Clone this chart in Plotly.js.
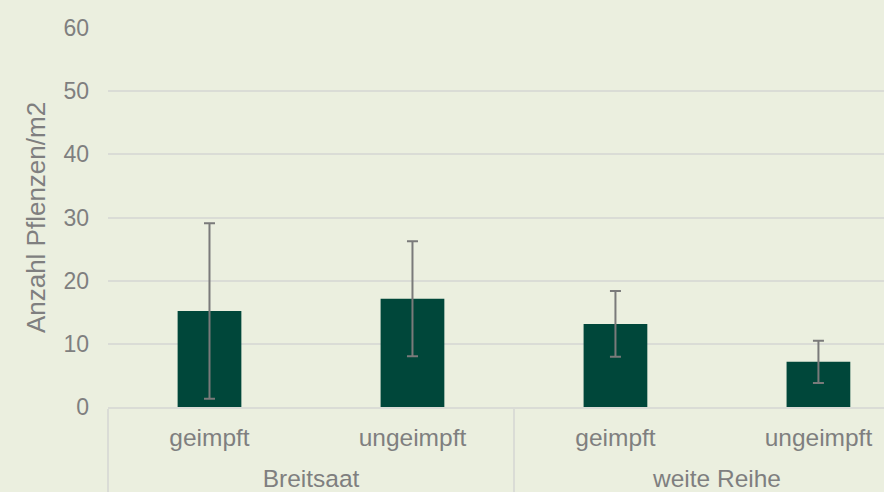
<!DOCTYPE html>
<html>
<head>
<meta charset="utf-8">
<script src="https://cdn.plot.ly/plotly-3.0.1.min.js"></script>
<style>html,body{margin:0;padding:0;background:#EBEFDF;}#chart{width:884px;height:492px;}</style>
</head>
<body>
<div id="chart"></div>
<script>
const groups = ["Breitsaat", "Breitsaat", "weite Reihe", "weite Reihe"];
const treatments = ["geimpft", "ungeimpft", "geimpft", "ungeimpft"];
const meanValues = [15.2, 17.15, 13.15, 7.15];
const errorValues = [13.9, 9.1, 5.2, 3.35];
const yTickValues = [0, 10, 20, 30, 40, 50, 60];

const textColor = "#7F7F7F";
const gridColor = "#DADCD6";
const family = "Liberation Sans, Arial, sans-serif";

// invisible tall spacer so the group labels sit lower, as in the original
const pad = "<span style='font-size:42px'>\u00A0</span>";
const treatmentLabels = treatments.map(t => pad + t + pad);

const trace = {
  type: "bar",
  x: [groups, treatmentLabels],
  y: meanValues,
  marker: {color: "#00473A"},
  error_y: {type: "data", array: errorValues, visible: true, color: "#7A7A7A", thickness: 2, width: 5.5},
  hoverinfo: "none"
};

const layout = {
  width: 884, height: 492,
  paper_bgcolor: "#EBEFDF",
  plot_bgcolor: "#EBEFDF",
  margin: {l: 108, r: 0, t: 28, b: 85, pad: 0},
  bargap: 0.686,
  showlegend: false,
  font: {family: family, size: 22, color: textColor},
  xaxis: {
    type: "multicategory",
    range: [-0.5, 3.323],
    showgrid: false,
    showline: true,
    linecolor: gridColor,
    linewidth: 2,
    ticks: "",
    ticklabelstandoff: 8,
    showdividers: true,
    dividercolor: gridColor,
    dividerwidth: 2,
    tickfont: {family: family, size: 24.5, color: textColor}
  },
  yaxis: {
    range: [0, 60],
    tickvals: yTickValues,
    showgrid: true,
    gridcolor: gridColor,
    gridwidth: 2,
    zeroline: false,
    showline: false,
    ticks: "",
    ticklabelstandoff: 18,
    tickfont: {family: family, size: 23, color: textColor},
    title: {text: "Anzahl Pflenzen/m2", font: {family: family, size: 26, color: textColor}, standoff: 10}
  }
};

Plotly.newPlot("chart", [trace], layout, {staticPlot: true, displayModeBar: false});
</script>
</body>
</html>
